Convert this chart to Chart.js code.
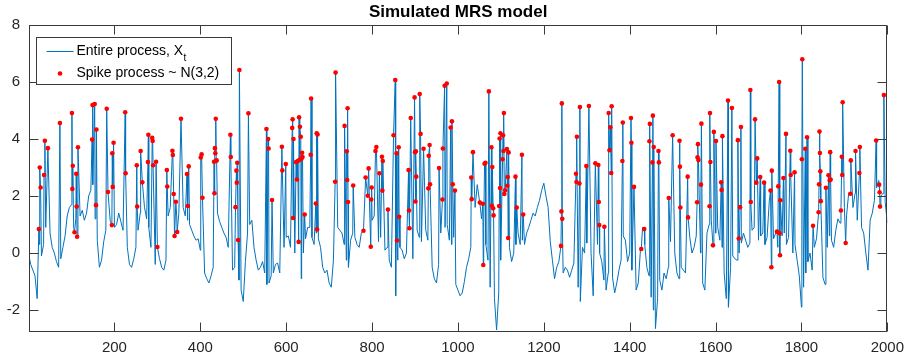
<!DOCTYPE html>
<html><head><meta charset="utf-8">
<script src="https://cdn.jsdelivr.net/npm/chart.js@4/dist/chart.umd.min.js"></script>
<style>html,body{margin:0;padding:0;background:#fff;}canvas{display:block;}</style>
</head><body>
<canvas id="c" width="911" height="364" style="width:911px;height:364px"></canvas>
<script>
const titleText = "Simulated MRS model";
const lineLabel = "Entire process, X";
const lineLabelSub = "t";
const spikeLabel = "Spike process ~ N(3,2)";
const xTickValues = [200,400,600,800,1000,1200,1400,1600,1800,2000];
const yTickValues = [-2,0,2,4,6,8];

// base (non-spike) process read every 10 days
const baseDays = [1,10,20,30,40,50,60,70,80,90,100,110,120,130,140,150,160,170,180,190,200,
210,220,230,240,250,260,270,280,290,300,310,320,330,340,350,360,370,380,390,400,
410,420,430,440,450,460,470,480,490,500,510,520,530,540,550,560,570,580,590,600,
610,620,630,640,650,660,670,680,690,700,710,720,730,740,750,760,770,780,790,800,
810,820,830,840,850,860,870,880,890,900,910,920,930,940,950,960,970,980,990,1000,
1010,1020,1030,1040,1050,1060,1070,1080,1090,1100,1110,1120,1130,1140,1150,1160,1170,1180,1190,1200,
1210,1220,1230,1240,1250,1260,1270,1280,1290,1300,1310,1320,1330,1340,1350,1360,1370,1380,1390,1400,
1410,1420,1430,1440,1450,1460,1470,1480,1490,1500,1510,1520,1530,1540,1550,1560,1570,1580,1590,1600,
1610,1620,1630,1640,1650,1660,1670,1680,1690,1700,1710,1720,1730,1740,1750,1760,1770,1780,1790,1800,
1810,1820,1830,1840,1850,1860,1870,1880,1890,1900,1910,1920,1930,1940,1950,1960,1970,1980,1990,2000];
const baseValues = [-0.1,-0.6,-1.6,-0.1,0.9,0.7,0.0,-0.5,0.2,1.3,1.7,1.2,1.3,1.15,2.0,2.4,0.45,-0.25,0.8,1.15,0.9,
1.4,0.8,0.2,-0.5,0.2,1.4,1.6,0.9,-0.5,0.0,-0.5,-0.25,1.6,1.15,1.4,1.6,1.15,0.8,0.45,0.1,
-0.7,-1.05,-0.5,1.4,0.9,0.55,-0.25,-0.5,-0.95,-1.7,0.7,1.15,-0.25,-0.5,-0.7,-1.05,-0.7,-0.35,-0.25,0.55,
0.2,0.0,-0.7,0.0,0.9,0.55,0.7,0.2,-0.7,-1.05,-0.25,0.9,0.7,-0.25,0.45,0.55,0.2,0.45,1.3,1.15,
0.8,0.55,0.1,-0.25,-1.2,-0.25,0.1,0.0,-0.6,-0.25,0.55,0.7,0.45,-0.5,-1.05,0.7,0.9,0.45,0.55,-1.3,
-1.4,-0.5,0.2,1.6,1.85,0.9,-0.25,-1.65,-2.7,-0.25,-0.25,0.2,0.0,0.7,0.45,0.7,1.15,1.3,1.85,2.45,
1.6,-0.25,-0.5,0.0,-0.5,-0.85,-0.35,-1.2,0.2,0.35,0.0,-1.2,0.0,-0.95,-0.7,-0.85,-1.05,-0.25,0.45,0.0,
-0.5,-1.05,0.9,-0.5,-1.55,-2.65,-0.95,-0.7,-0.5,0.2,-0.7,-0.5,-0.7,0.55,0.2,0.7,-1.05,0.7,1.15,0.7,
0.45,-0.7,-1.9,-0.1,-0.25,0.35,0.45,0.35,0.9,0.45,0.7,0.55,1.15,0.7,0.2,0.7,0.55,0.0,-0.25,-1.9,
-0.7,0.0,0.2,0.45,-0.85,0.2,0.45,0.8,1.05,1.6,2.1,1.6,1.15,0.9,0.0,1.15,1.85,2.55,2.1,1.05];

// base process read half-way between the above days
const halfDays = [5,15,25,35,45,55,65,75,85,95,105,115,125,135,145,155,165,175,185,195,
205,215,225,235,245,255,265,275,285,295,305,315,325,335,345,355,365,375,385,395,
405,415,425,435,445,455,465,475,485,495,505,515,525,535,545,555,565,575,585,595,
605,615,625,635,645,655,665,675,685,695,705,715,725,735,745,755,765,775,785,795,
805,815,825,835,845,855,865,875,885,895,905,915,925,935,945,955,965,975,985,995,
1005,1015,1025,1035,1045,1055,1065,1075,1085,1095,1105,1115,1125,1135,1145,1155,1165,1175,1185,1195,
1205,1215,1225,1235,1245,1255,1265,1275,1285,1295,1305,1315,1325,1335,1345,1355,1365,1375,1385,1395,
1405,1415,1425,1435,1445,1455,1465,1475,1485,1495,1505,1515,1525,1535,1545,1555,1565,1575,1585,1595,
1605,1615,1625,1635,1645,1655,1665,1675,1685,1695,1705,1715,1725,1735,1745,1755,1765,1775,1785,1795,
1805,1815,1825,1835,1845,1855,1865,1875,1885,1895,1905,1915,1925,1935,1945,1955,1965,1975,1985,1995];
const halfValues = [-0.4,-0.8,0.3,0.3,0.8,0.2,-0.3,-0.2,0.6,1.6,0.9,1.3,1.5,1.4,2.2,1.2,-0.5,0.4,1.0,1.0,
1.0,1.1,1.0,-0.4,-0.2,0.8,1.5,1.2,0.2,-0.4,-0.2,-0.6,1.3,1.3,1.3,1.3,1.3,1.0,0.6,0.5,
0.0,-0.9,-0.8,1.0,1.1,0.7,0.2,-0.6,-0.6,-1.3,-0.3,1.0,0.2,-0.6,-0.3,-1.1,-0.8,-0.4,-0.7,0.2,
0.6,0.0,0.0,-0.9,0.5,0.9,0.3,0.5,-0.5,-0.6,-1.2,0.8,0.8,0.3,-0.5,0.7,0.3,0.7,1.2,1.2,
1.3,0.4,0.5,0.2,-0.5,-1.5,0.2,-0.2,-0.3,-0.2,0.8,0.4,0.8,0.5,-0.9,-0.4,0.6,1.0,0.3,-1.1,
-1.5,-1.0,-0.2,1.5,2.4,1.2,0.3,-1.2,-1.6,-1.4,-0.3,-0.3,-0.3,0.3,0.3,0.3,0.9,1.4,1.6,2.2,
2.0,0.4,-0.9,-0.3,-0.7,-0.6,-0.6,-0.5,-1.7,0.0,0.3,-1.5,0.3,-0.3,-1.3,-0.8,-1.4,-0.6,0.6,-0.3,
-0.6,-1.3,0.1,0.3,-0.8,-2.0,-1.6,-1.3,-0.9,0.4,0.0,-0.9,-0.6,0.3,0.0,0.6,0.0,-1.3,1.0,0.3,
0.9,0.2,-1.6,-0.5,-0.2,0.0,0.7,0.2,0.8,0.6,0.6,0.3,1.8,0.5,0.2,0.6,0.3,0.3,0.3,-0.8,
-1.2,-0.3,-0.6,0.5,0.5,-1.1,0.6,0.2,1.2,1.3,1.3,2.0,2.1,1.2,0.7,-0.6,1.4,2.3,2.0,1.8];

const spikeDays = [24,26,28,36,38,45,73,101,102,103,107,111,112,113,115,148,149,154,157,158,
182,185,194,195,196,198,225,226,252,253,261,265,278,279,288,289,290,297,300,322,323,335,336,338,340,343,346,
355,369,371,373,401,403,405,432,433,434,435,436,437,438,470,471,482,484,485,486,488,491,512,
554,558,559,567,590,591,599,614,615,616,617,623,625,627,629,630,631,632,634,636,637,638,643,
657,658,669,671,672,673,714,715,736,741,742,743,744,756,780,785,790,792,797,798,799,808,810,
817,823,824,825,837,850,854,857,858,862,863,885,886,887,890,899,900,901,902,903,911,913,920,
931,932,934,935,956,964,965,969,974,983,986,988,993,1031,1032,1035,1051,1058,1059,1062,1064,
1072,1078,1079,1080,1082,1083,1096,1097,1098,1099,1104,1105,1106,1107,1108,1110,1114,1115,1116,
1117,1118,1134,1137,1149,1152,1240,1241,1242,1243,1275,1276,1277,1283,1284,1299,1305,1320,1327,
1328,1329,1341,1351,1353,1355,1357,1358,1383,1384,1403,1404,1410,1427,1434,1446,1447,1453,1454,
1456,1467,1468,1491,1500,1516,1517,1518,1535,1536,1557,1558,1559,1560,1566,1567,1586,1587,1588,
1594,1596,1601,1613,1614,1616,1629,1638,1652,1654,1657,1659,1681,1682,1692,1695,1697,1704,1713,
1728,1730,1731,1743,1746,1748,1749,1750,1751,1758,1764,1774,1775,1784,1801,1802,1809,1813,1827,
1840,1841,1842,1843,1844,1845,1857,1863,1866,1867,1868,1892,1894,1895,1896,1903,1914,1915,1926,
1935,1936,1974,1981,1982,1983,1992];
const spikeValues = [0.84,3.0,2.3,2.74,3.94,3.68,4.56,4.91,2.25,3.06,0.73,2.78,1.63,0.57,3.71,3.98,5.19,5.23,1.68,4.33,
5.06,2.14,0.98,3.5,2.32,3.87,4.94,2.8,3.08,1.63,3.58,2.48,3.19,4.15,4.04,3.93,3.08,3.2,0.21,2.91,2.33,3.59,3.44,2.07,0.6,1.8,0.74,
4.71,2.77,1.65,3.04,3.35,3.46,1.94,3.2,2.1,3.68,3.5,4.71,3.24,3.25,4.15,3.37,1.61,2.89,2.47,3.17,0.46,6.42,4.9,
4.35,4.0,3.67,1.86,3.73,2.9,3.12,4.39,4.69,1.23,4.0,3.19,2.58,3.23,0.39,4.76,3.27,4.43,4.08,3.32,3.52,3.37,1.35,
3.45,5.42,1.74,4.2,0.83,4.16,2.5,6.33,4.46,3.57,2.56,5.08,1.79,2.37,0.78,2.65,2.01,2.97,0.22,1.88,2.3,3.58,3.72,
2.8,3.38,2.19,3.23,1.53,4.13,6.07,3.5,0.44,3.71,1.27,2.91,1.49,0.87,4.74,5.46,3.54,1.81,3.57,2.68,5.58,4.18,3.66,
2.27,3.41,3.79,2.41,2.98,1.88,3.67,5.87,5.95,4.4,4.62,2.41,2.19,2.65,1.89,3.54,1.77,1.73,-0.42,3.13,3.17,
5.67,3.71,1.66,3.02,1.57,1.32,1.65,4.02,2.28,4.2,3.29,4.13,3.58,4.91,2.07,2.2,3.65,2.36,2.67,
0.53,3.53,2.68,1.6,3.45,1.35,0.25,1.46,5.25,1.2,2.78,2.49,4.08,2.44,5.12,3.05,5.16,3.15,3.09,
1.79,0.98,0.92,4.91,3.61,4.41,2.81,5.15,3.23,4.58,4.74,3.87,2.32,0.14,0.84,3.92,4.53,3.18,4.82,
3.72,3.58,3.18,1.93,4.13,3.94,3.03,1.6,2.68,1.25,1.78,3.36,3.82,3.26,2.4,4.54,1.64,4.91,3.19,
0.27,4.25,3.93,2.48,2.21,4.1,5.35,5.09,3.96,0.51,1.61,4.42,5.72,1.79,4.69,2.47,3.32,2.67,2.47,
2.19,-0.5,2.89,0.75,2.34,6.0,0.69,-0.08,1.85,2.63,4.18,3.59,2.74,2.83,3.29,6.8,3.66,4.06,0.96,
1.43,2.41,4.26,3.51,2.87,1.82,2.29,2.73,2.55,3.54,2.58,1.49,3.38,2.74,5.29,0.35,2.08,3.25,3.58,
2.81,3.72,3.95,2.4,2.13,1.63,5.54];

// merge base process and spikes into the entire process
const spikeSet = new Set(spikeDays);
const processPts = [];
baseDays.forEach((d, i) => { if (!spikeSet.has(d)) processPts.push({x: d, y: baseValues[i]}); });
halfDays.forEach((d, i) => { if (!spikeSet.has(d)) processPts.push({x: d, y: halfValues[i]}); });
spikeDays.forEach((d, i) => processPts.push({x: d, y: spikeValues[i]}));
processPts.sort((a, b) => a.x - b.x);
const spikePts = spikeDays.map((d, i) => ({x: d, y: spikeValues[i]}));

const AXIS_COLOR = '#262626';
const FONT = '"Liberation Sans", Arial, Helvetica, sans-serif';

const framePlugin = {
  id: 'frame',
  afterDraw(chart) {
    const {ctx, chartArea: a, scales: {x, y}} = chart;
    ctx.save();
    ctx.strokeStyle = '#3a3a3a';
    ctx.lineWidth = 1;
    const L = Math.round(a.left) + 0.5, R = Math.round(a.right) - 0.5;
    const T = Math.round(a.top) + 0.5, B = Math.round(a.bottom) - 0.5;
    ctx.strokeRect(L, T, R - L, B - T);
    const tl = 9;
    ctx.beginPath();
    xTickValues.forEach(v => {
      const px = Math.round(x.getPixelForValue(v)) + 0.5;
      ctx.moveTo(px, B); ctx.lineTo(px, B - tl);
      ctx.moveTo(px, T); ctx.lineTo(px, T + tl);
    });
    yTickValues.forEach(v => {
      const py = Math.round(y.getPixelForValue(v)) + 0.5;
      ctx.moveTo(L, py); ctx.lineTo(L + tl, py);
      ctx.moveTo(R, py); ctx.lineTo(R - tl, py);
    });
    ctx.stroke();

    // title
    ctx.fillStyle = '#000';
    ctx.font = 'bold 17px ' + FONT;
    ctx.textAlign = 'center';
    ctx.textBaseline = 'alphabetic';
    ctx.fillText(titleText, (a.left + a.right) / 2, 16.5);

    // legend
    const lx = Math.round(a.left) + 7.5, ly = Math.round(a.top) + 12.5, lw = 195, lh = 47;
    ctx.fillStyle = '#fff';
    ctx.fillRect(lx, ly, lw, lh);
    ctx.strokeStyle = '#3a3a3a';
    ctx.strokeRect(lx, ly, lw, lh);
    const row1 = ly + 14, row2 = ly + 36;
    ctx.strokeStyle = '#0072BD';
    ctx.beginPath(); ctx.moveTo(lx + 10, row1); ctx.lineTo(lx + 37, row1); ctx.stroke();
    ctx.fillStyle = '#ff0000';
    ctx.beginPath(); ctx.arc(lx + 23.5, row2, 2.3, 0, Math.PI * 2); ctx.fill();
    ctx.fillStyle = '#000';
    ctx.font = '14px ' + FONT;
    ctx.textAlign = 'left';
    ctx.textBaseline = 'middle';
    ctx.fillText(lineLabel, lx + 40, row1);
    const w = ctx.measureText(lineLabel).width;
    ctx.font = '10px ' + FONT;
    ctx.fillText(lineLabelSub, lx + 40 + w + 0.5, row1 + 7);
    ctx.font = '14px ' + FONT;
    ctx.fillText(spikeLabel, lx + 40, row2);
    ctx.restore();
  }
};

new Chart(document.getElementById('c'), {
  type: 'line',
  data: {
    datasets: [
      {label: lineLabel, data: processPts, borderColor: '#0072BD', borderWidth: 1, pointRadius: 0, tension: 0, fill: false, order: 2},
      {label: spikeLabel, data: spikePts, showLine: false, pointRadius: 2.3, pointBackgroundColor: '#ff0000', pointBorderWidth: 0, backgroundColor: '#ff0000', borderColor: '#ff0000', order: 1}
    ]
  },
  options: {
    responsive: false,
    animation: false,
    devicePixelRatio: 1,
    layout: {padding: {left: 0, right: 22, top: 25, bottom: 0}},
    plugins: {legend: {display: false}, title: {display: false}, tooltip: {enabled: false}},
    scales: {
      x: {
        type: 'linear', min: 1, max: 2000,
        grid: {display: false, drawTicks: false}, border: {display: false},
        afterBuildTicks: s => { s.ticks = xTickValues.map(v => ({value: v})); },
        afterFit: s => { s.height = 32; },
        ticks: {color: AXIS_COLOR, font: {size: 15, family: FONT}, padding: 7, maxRotation: 0, autoSkip: false,
                callback: v => String(v)}
      },
      y: {
        type: 'linear', min: -2.77, max: 8,
        grid: {display: false, drawTicks: false}, border: {display: false},
        afterBuildTicks: s => { s.ticks = yTickValues.map(v => ({value: v})); },
        afterFit: s => { s.width = 29; },
        ticks: {color: AXIS_COLOR, font: {size: 15, family: FONT}, padding: 9, callback: v => String(v)}
      }
    }
  },
  plugins: [framePlugin]
});
</script>
</body></html>
